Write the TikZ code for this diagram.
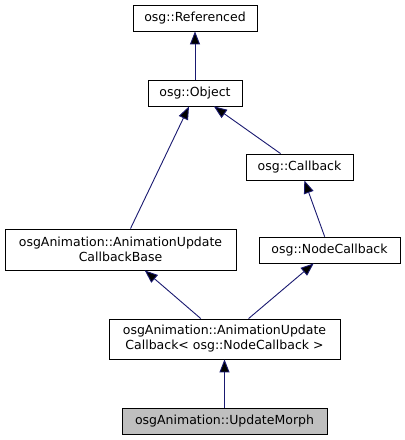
\documentclass[tikz,border=0pt]{standalone}
\usepackage{fontspec}
\setmainfont{DejaVu Sans}
\usepackage{tikz}
\usetikzlibrary{arrows.meta}

\definecolor{edgeblue}{RGB}{25,25,112}
\definecolor{curgray}{RGB}{191,191,191}

\tikzset{
  cls/.style={draw=black, line width=0.8pt, fill=white, rectangle,
    inner xsep=2pt, inner ysep=0pt, minimum height=26pt, align=center,
    font=\fontsize{12.5}{15}\selectfont},
  inh/.style={draw=edgeblue, line width=0.9pt,
    -{Triangle[length=13pt, width=10pt]}}
}

\begin{document}
\begin{tikzpicture}[x=1pt, y=-1pt]
  \useasboundingbox (0,0) rectangle (405,440);
  \node[cls, minimum width=124pt] (ref) at (195,18) {osg::Referenced};
  \node[cls, minimum width=94pt] (obj) at (195,93) {osg::Object};
  \node[cls, minimum width=107pt] (cb) at (299.5,167) {osg::Callback};
  \node[cls, minimum width=231pt, minimum height=41pt] (aucb) at (120.5,249.5)
    {osgAnimation::AnimationUpdate\\CallbackBase};
  \node[cls, minimum width=141pt] (nc) at (329.5,250) {osg::NodeCallback};
  \node[cls, minimum width=231pt, minimum height=40pt] (auc) at (224.5,339)
    {osgAnimation::AnimationUpdate\\Callback< osg::NodeCallback >};
  \node[cls, fill=curgray, minimum width=205pt] (um) at (224.5,421)
    {osgAnimation::UpdateMorph};
  \path[inh]
    (obj) edge (ref)
    (aucb) edge ([xshift=-6pt]obj.south)
    (cb) edge (obj)
    (nc) edge (cb)
    (auc) edge (aucb)
          edge (nc)
    (um) edge (auc);
\end{tikzpicture}
\end{document}
